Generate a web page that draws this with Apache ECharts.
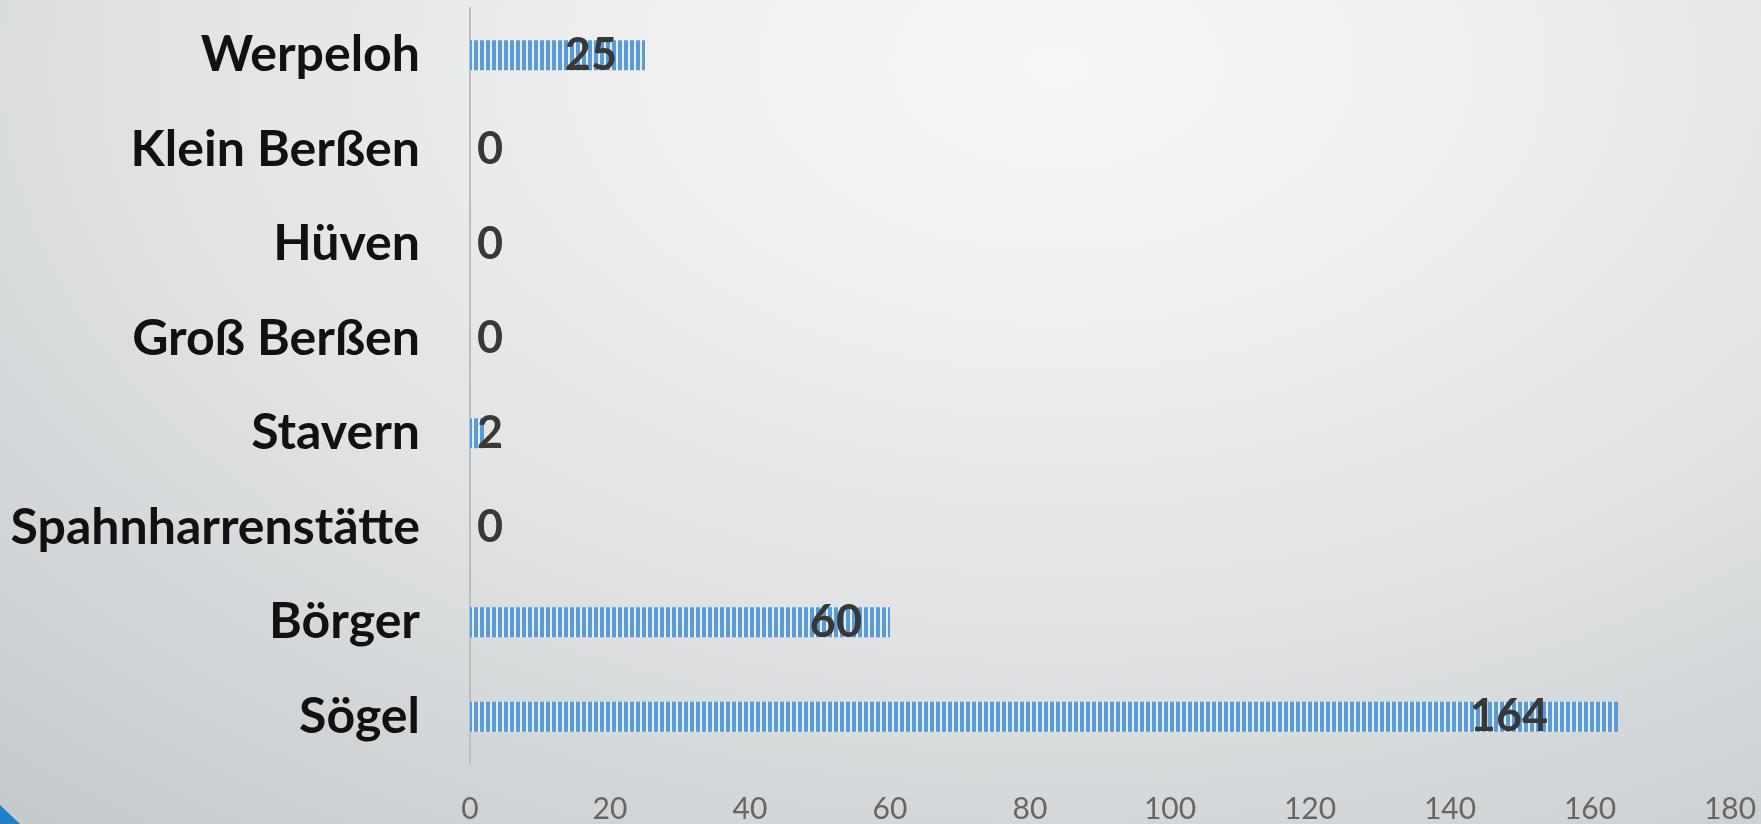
<!DOCTYPE html>
<html>
<head>
<meta charset="utf-8">
<script src="https://cdn.jsdelivr.net/npm/echarts@6/dist/echarts.min.js"></script>
<style>
html,body{margin:0;padding:0;width:1761px;height:824px;overflow:hidden;}
body{background:radial-gradient(ellipse 90% 120% at 60% 8%, #f6f6f6 0%, #f0f0f0 25%, #e0e2e3 58%, #c5cacd 100%);}
#c{width:1761px;height:824px;}
</style>
</head>
<body>
<div id="c"></div>
<script>
const categories = ['Werpeloh','Klein Berßen','Hüven','Groß Berßen','Stavern','Spahnharrenstätte','Börger','Sögel'];
const values = [25, 0, 0, 0, 2, 0, 60, 164];
const xTicks = {min: 0, max: 180, interval: 20};

const pc = document.createElement('canvas');
pc.width = 6; pc.height = 4;
const g = pc.getContext('2d');
g.fillStyle = '#e4eef8'; g.fillRect(0,0,6,4);
g.fillStyle = '#5b9bd5'; g.fillRect(0,0,4,4);

function labelFor(v) {
  if (v <= 5) return {position: 'insideLeft', distance: 7};
  if (v >= 100) return {position: ['90.5%', '50%'], align: 'center', verticalAlign: 'middle'};
  return {position: 'insideRight', distance: 28};
}

const chart = echarts.init(document.getElementById('c'));
const seriesData = values.map(v => ({value: v, label: labelFor(v)}));
chart.setOption({
  backgroundColor: 'transparent',
  animation: false,
  grid: {left: 470, right: 31, top: 8, bottom: 60, containLabel: false},
  xAxis: {
    type: 'value', min: xTicks.min, max: xTicks.max, interval: xTicks.interval,
    splitLine: {show: false}, axisLine: {show: false}, axisTick: {show: false},
    axisLabel: {color: '#666666', fontSize: 30, fontFamily: 'Lato', margin: 30}
  },
  yAxis: {
    type: 'category', data: categories, inverse: true,
    axisLine: {show: true, lineStyle: {color: '#bdbdbd', width: 2}},
    axisTick: {show: false},
    axisLabel: {color: '#111111', fontSize: 50, fontWeight: 'bold', fontFamily: 'Lato', margin: 50}
  },
  series: [{
    type: 'bar', data: seriesData, barWidth: 30,
    itemStyle: {color: {image: pc, repeat: 'repeat'}},
    label: {show: true, color: '#383838', fontSize: 45, fontWeight: 'bold', fontFamily: 'Lato'}
  }],
  graphic: [{
    type: 'polygon', shape: {points: [[0,805],[20,824],[0,824]]},
    style: {fill: '#1f7fc9'}
  }]
});
</script>
</body>
</html>
